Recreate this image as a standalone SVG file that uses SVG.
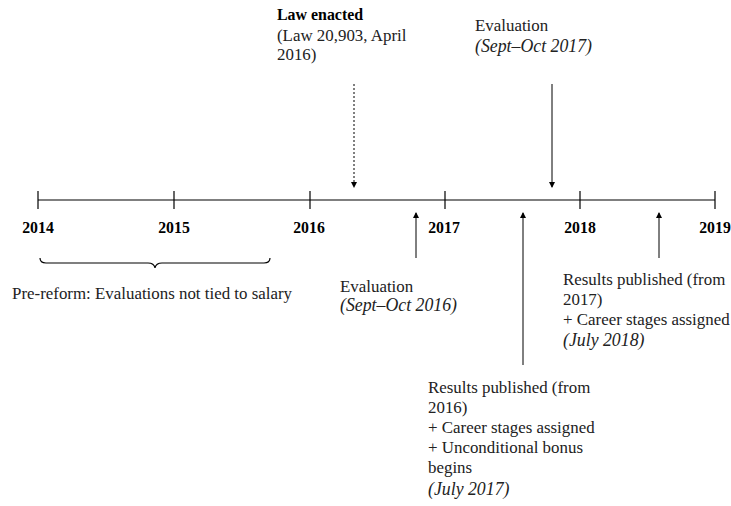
<svg xmlns="http://www.w3.org/2000/svg" width="731" height="506" viewBox="0 0 731 506">
<defs>
<marker id="ah" viewBox="0 0 6 6" refX="5" refY="3" markerWidth="6" markerHeight="6" markerUnits="userSpaceOnUse" orient="auto">
<path d="M0,0 L6,3 L0,6 Z" fill="#000"/>
</marker>
</defs>
<style>
text{font-family:"Liberation Serif","DejaVu Serif",serif;font-size:16.9px;fill:#222}
.yr{font-weight:bold;font-size:15.8px;text-anchor:middle;fill:#000}
.b{font-weight:bold;font-size:15.9px;fill:#000}
.i{font-style:italic;font-size:17.8px}
.ax{stroke:#000;stroke-width:1.2;fill:none}
.ar{stroke:#000;stroke-width:1;fill:none;marker-end:url(#ah)}
.dot{stroke-dasharray:2,2}
</style>
<rect width="731" height="506" fill="#fff"/>
<g id="axis">
<line class="ax" x1="38" y1="200" x2="715" y2="200"/>
<line class="ax" x1="38" y1="191" x2="38" y2="209"/>
<line class="ax" x1="174" y1="191" x2="174" y2="209"/>
<line class="ax" x1="310" y1="191" x2="310" y2="209"/>
<line class="ax" x1="445" y1="191" x2="445" y2="209"/>
<line class="ax" x1="580" y1="191" x2="580" y2="209"/>
<line class="ax" x1="715" y1="191" x2="715" y2="209"/>
<text class="yr" x="38" y="233">2014</text>
<text class="yr" x="174" y="233">2015</text>
<text class="yr" x="309" y="233">2016</text>
<text class="yr" x="444" y="233">2017</text>
<text class="yr" x="580" y="233">2018</text>
<text class="yr" x="715" y="233">2019</text>
</g>
<g id="connectors">
<line class="ar dot" x1="354" y1="84" x2="354" y2="187"/>
<line class="ar" x1="552" y1="84" x2="552" y2="187" stroke="#444"/>
<line class="ar" x1="416" y1="258" x2="416" y2="213"/>
<line class="ar" x1="523" y1="365" x2="523" y2="213"/>
<line class="ar" x1="659" y1="258" x2="659" y2="213"/>
</g>
<g id="law">
<text class="b" x="277" y="20">Law enacted</text>
<text x="277" y="41">(Law 20,903, April</text>
<text x="277" y="60">2016)</text>
</g>
<g id="eval2017">
<text x="475" y="31">Evaluation</text>
<text class="i" x="475" y="52">(Sept–Oct 2017)</text>
</g>
<g id="prereform">
<path class="ax" stroke-width="1" d="M40,258 Q40,263 46,263 L148,263 Q154,263 155,268 Q156,263 162,263 L264,263 Q270,263 270,258"/>
<text x="12" y="299">Pre-reform: Evaluations not tied to salary</text>
</g>
<g id="eval2016">
<text x="340" y="292">Evaluation</text>
<text class="i" x="340" y="311">(Sept–Oct 2016)</text>
</g>
<g id="results2018">
<text x="563" y="285">Results published (from</text>
<text x="563" y="305">2017)</text>
<text x="563" y="325">+ Career stages assigned</text>
<text class="i" x="563" y="346">(July 2018)</text>
</g>
<g id="results2017">
<text x="428" y="393">Results published (from</text>
<text x="428" y="413">2016)</text>
<text x="428" y="433">+ Career stages assigned</text>
<text x="428" y="453">+ Unconditional bonus</text>
<text x="428" y="473">begins</text>
<text class="i" x="428" y="495">(July 2017)</text>
</g>
</svg>
